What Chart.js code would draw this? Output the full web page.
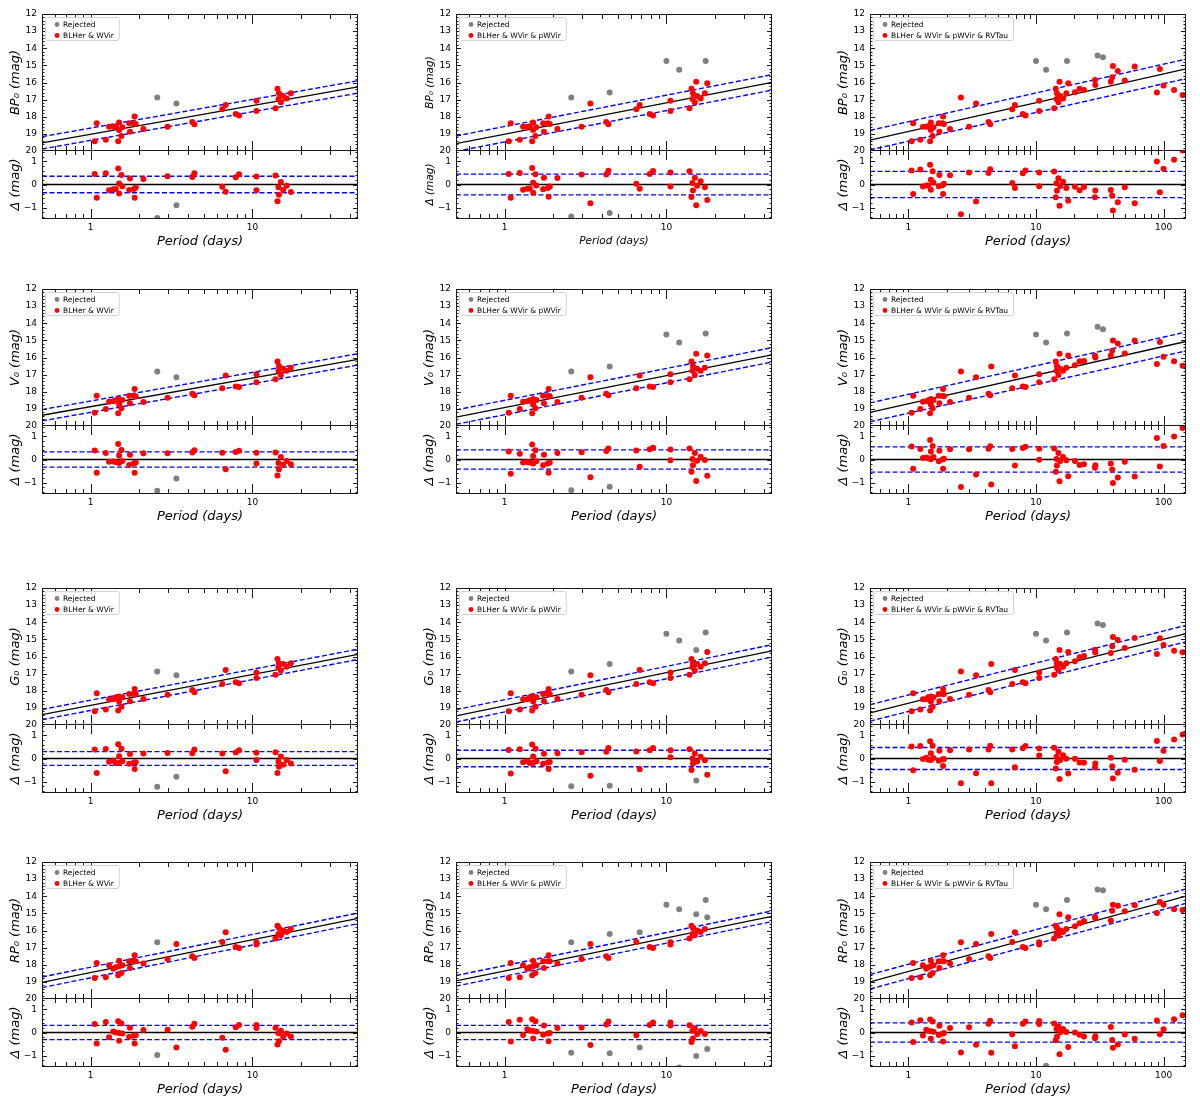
<!DOCTYPE html>
<html>
<head>
<meta charset="utf-8">
<title>PL relations</title>
<script src="https://cdn.jsdelivr.net/npm/chart.js@4.4.1/dist/chart.umd.min.js"></script>
<style>
  body { margin: 0; background: #fff; }
  #wrap { position: relative; width: 1200px; height: 1102px; overflow: hidden; background: #fff; }
  #wrap canvas { position: absolute; }
</style>
</head>
<body>
<div id="wrap"></div>
<script>
// periods (days), same stars in every panel
const period = [1.06, 1.09, 1.24, 1.30, 1.38, 1.43, 1.48, 1.50, 1.50, 1.55, 1.57, 1.73, 1.75, 1.85, 1.87, 1.90, 2.12, 2.58, 2.99, 3.39,
  4.25, 4.38, 4.46, 6.52, 6.84, 7.89, 8.27, 10.0, 10.6, 10.6, 12.0, 13.9, 14.3, 14.5, 14.6, 15.0, 15.3, 15.5, 16.3, 17.3,
  17.5, 17.9, 20.2, 22.0, 23.8, 29.0, 29.2, 30.4, 33.5, 38.6, 39.6, 40.1, 43.8, 49.7, 59.4, 88.7, 93.6, 100, 121, 141];
// 1 = BLHer / WVir, 2 = pWVir, 3 = RVTau
const kind = [1, 1, 1, 1, 1, 1, 1, 1, 1, 1, 1, 1, 1, 1, 1, 1, 1, 1, 1, 1,
  1, 1, 2, 1, 1, 1, 1, 2, 1, 1, 2, 1, 1, 1, 1, 1, 2, 1, 1, 1,
  2, 2, 3, 3, 3, 3, 3, 3, 3, 3, 3, 3, 3, 3, 3, 3, 3, 3, 3, 3];

const magBP = [19.43, 18.38, 19.35, 18.58, 18.58, 18.56, 19.43, 18.34, 18.77, 19.12, 18.62, 18.38, 18.87, 18.38, 17.99, 18.42, 18.71, 16.88, 18.58, 17.23,
  18.30, 18.44, 16.59, 17.56, 17.31, 17.84, 17.93, 14.74, 17.06, 17.66, 15.25, 17.50, 16.36, 16.96, 16.63, 17.16, 15.95, 16.79, 16.94, 16.63,
  14.74, 16.05, 16.57, 16.36, 16.44, 15.85, 16.14, 14.43, 14.53, 15.95, 15.70, 15.04, 15.33, 15.89, 15.07, 16.59, 15.21, 16.18, 16.44, 16.73];
const magV = [19.22, 18.23, 19.00, 18.58, 18.55, 18.50, 19.26, 18.42, 18.75, 18.97, 18.48, 18.23, 18.67, 18.25, 17.84, 18.27, 18.60, 16.82, 18.35, 17.16,
  18.12, 18.20, 16.53, 17.80, 17.05, 17.70, 17.72, 14.65, 16.98, 17.45, 15.12, 17.27, 16.24, 16.78, 16.50, 17.02, 15.78, 16.65, 16.78, 16.60,
  14.60, 15.88, 16.45, 16.22, 16.20, 15.90, 16.00, 14.20, 14.35, 15.88, 15.60, 15.00, 15.18, 15.77, 15.00, 16.38, 15.10, 15.95, 16.22, 16.48];
const magG = [19.20, 18.15, 19.10, 18.50, 18.50, 18.38, 19.16, 18.34, 18.63, 18.93, 18.38, 18.19, 18.61, 18.19, 17.90, 18.19, 18.48, 16.88, 18.23, 17.10,
  17.95, 18.09, 16.44, 17.60, 16.79, 17.50, 17.56, 14.67, 16.94, 17.25, 15.07, 17.06, 16.14, 16.63, 16.40, 16.82, 15.62, 16.44, 16.60, 16.40,
  14.60, 15.74, 16.28, 16.05, 15.97, 15.60, 15.77, 14.08, 14.16, 15.80, 15.40, 14.86, 15.04, 15.50, 14.92, 15.85, 14.94, 15.33, 15.66, 15.75];
const magRP = [18.77, 17.90, 18.73, 18.03, 18.23, 18.15, 18.61, 17.76, 18.09, 18.48, 18.03, 17.80, 18.19, 17.80, 17.45, 17.80, 17.93, 16.69, 17.66, 16.79,
  17.50, 17.60, 16.20, 16.67, 16.10, 16.96, 17.02, 14.49, 16.69, 16.82, 14.76, 16.47, 15.72, 16.20, 15.85, 16.28, 15.05, 16.00, 16.09, 15.91,
  14.22, 15.23, 15.75, 15.58, 15.44, 15.19, 15.27, 13.60, 13.65, 15.42, 14.84, 14.49, 14.55, 14.88, 14.53, 14.98, 14.33, 14.49, 14.76, 14.80];

const bandName = ['BP', 'V', 'G', 'RP'];
const sampleLabel = ['BLHer & WVir', 'BLHer & WVir & pWVir', 'BLHer & WVir & pWVir & RVTau'];
const periodMax = [45, 45, 150];

// fits per band (row) and sample (column): mag at P = 1 d, slope, scatter
const fitZp = [[19.02, 19.02, 18.86], [18.87, 18.92, 18.70], [18.85, 18.88, 18.73], [18.45, 18.36, 18.39]];
const fitSlope = [[-1.67, -1.83, -1.68], [-1.67, -1.86, -1.67], [-1.80, -1.94, -1.87], [-1.91, -1.93, -2.02]];
const fitSigma = [[0.36, 0.45, 0.57], [0.33, 0.42, 0.55], [0.30, 0.36, 0.48], [0.31, 0.31, 0.42]];

// rejected stars (indices) per column
const rejBP = [[17, 19], [17, 22, 27, 30, 40], [27, 30, 40, 47, 48]];
const rejV = [[17, 19], [17, 22, 27, 30, 40], [27, 30, 40, 47, 48]];
const rejG = [[17, 19], [17, 22, 27, 30, 36, 40], [27, 30, 40, 47, 48]];
const rejRP = [[17], [17, 22, 24, 27, 30, 36, 40, 41], [27, 30, 40, 47, 48]];
// stars not plotted in a panel
const skipBP = [[], [], [22]];
const skipNone = [[], [], []];

const bandMag = [magBP, magV, magG, magRP];
const bandRej = [rejBP, rejV, rejG, rejRP];
const bandSkip = [skipBP, skipNone, skipNone, skipNone];

// page layout
const colLeft = [42, 456, 870];
const rowTop = [14, 289, 588, 862];
const plotW = 316, mainH = 137, resH = 69;
const padL = 40, padTop = 10, padR = 10;
const FONT = 'DejaVu Sans';

// frame + inward ticks on every side (matplotlib style)
const axisDeco = {
  id: 'axisDeco',
  afterDatasetsDraw(chart) {
    const { ctx, chartArea: a } = chart;
    const xs = chart.scales.x, ys = chart.scales.y;
    ctx.save();
    ctx.strokeStyle = '#1a1a1a';
    ctx.lineWidth = 1;
    ctx.strokeRect(a.left + 0.5, a.top + 0.5, a.width - 1, a.height - 1);
    ctx.beginPath();
    const xt = (v, len) => {
      const p = Math.round(xs.getPixelForValue(v)) + 0.5;
      ctx.moveTo(p, a.top); ctx.lineTo(p, a.top + len);
      ctx.moveTo(p, a.bottom); ctx.lineTo(p, a.bottom - len);
    };
    const yt = (v, len) => {
      const p = Math.round(ys.getPixelForValue(v)) + 0.5;
      ctx.moveTo(a.left, p); ctx.lineTo(a.left + len, p);
      ctx.moveTo(a.right, p); ctx.lineTo(a.right - len, p);
    };
    for (const d of [0.1, 1, 10, 100]) {
      for (let k = 2; k <= 9; k++) {
        const v = k * d;
        if (v > xs.min && v < xs.max) xt(v, 5);
      }
      if (d >= 1 && d > xs.min && d < xs.max) xt(d, 10);
    }
    const lo = Math.min(ys.min, ys.max), hi = Math.max(ys.min, ys.max);
    for (let i = Math.ceil(lo * 5); i <= Math.floor(hi * 5); i++) {
      const v = i / 5;
      if (v <= lo || v >= hi) continue;
      yt(v, i % 5 === 0 ? 5 : 2.5);
    }
    ctx.stroke();
    ctx.restore();
  }
};

// boxed legend in the upper-left corner
const sampleLegend = {
  id: 'sampleLegend',
  afterDraw(chart, args, o) {
    if (!o.show) return;
    const { ctx, chartArea: a } = chart;
    const sets = chart.data.datasets.slice(0, 2);
    ctx.save();
    ctx.font = '7.5px "' + FONT + '"';
    const tw = Math.max(...sets.map(d => ctx.measureText(d.label).width));
    const x0 = a.left + 3, y0 = a.top + 3;
    ctx.beginPath();
    ctx.roundRect(x0 + 0.5, y0 + 0.5, tw + 23, 23, 2);
    ctx.fillStyle = 'rgba(255,255,255,0.85)';
    ctx.fill();
    ctx.strokeStyle = '#d2d2d2';
    ctx.stroke();
    sets.forEach((d, i) => {
      const cy = y0 + 7.5 + i * 11;
      ctx.beginPath();
      ctx.arc(x0 + 12, cy, 2.4, 0, 2 * Math.PI);
      ctx.fillStyle = d.backgroundColor;
      ctx.fill();
      ctx.fillStyle = '#000';
      ctx.textBaseline = 'middle';
      ctx.fillText(d.label, x0 + 18, cy + 0.5);
    });
    ctx.restore();
  }
};

function addCanvas(left, top, w, h) {
  const c = document.createElement('canvas');
  c.width = w; c.height = h;
  c.style.left = left + 'px'; c.style.top = top + 'px';
  c.style.width = w + 'px'; c.style.height = h + 'px';
  document.getElementById('wrap').appendChild(c);
  return c;
}

function lineSet(data, color, dash) {
  return { data, showLine: true, borderColor: color, borderWidth: dash ? 1.4 : 1.3,
    borderDash: dash ? [5, 2.5] : [], pointRadius: 0, fill: false, clip: 0 };
}

function pointSet(label, data, color) {
  return { label, data, backgroundColor: color, borderColor: color, borderWidth: 0,
    pointRadius: 3, pointHoverRadius: 3, clip: 0 };
}

function fmt(v) { return v < 0 ? '\u2212' + Math.abs(v) : String(v); }

function makePanel(row, col) {
  const L = colLeft[col], T = rowTop[row];
  const xMax = periodMax[col];
  const zp = fitZp[row][col], sl = fitSlope[row][col], sig = fitSigma[row][col];
  const mags = bandMag[row], rej = bandRej[row][col], skip = bandSkip[row][col];
  const small = row === 0 && col === 1;
  const titleSize = small ? 10.5 : 13;

  const ok = [], bad = [], okR = [], badR = [];
  period.forEach((p, i) => {
    if (kind[i] > col + 1 || skip.includes(i)) return;
    const m = mags[i];
    const d = m - (zp + sl * Math.log10(p));
    if (rej.includes(i)) { bad.push({ x: p, y: m }); badR.push({ x: p, y: d }); }
    else { ok.push({ x: p, y: m }); okR.push({ x: p, y: d }); }
  });
  const fitAt = (p, off) => ({ x: p, y: zp + sl * Math.log10(p) + off });
  const ends = [0.5, xMax];

  const xScale = (show) => ({
    type: 'logarithmic', min: 0.5, max: xMax, display: show,
    grid: { display: false, drawTicks: false }, border: { display: false },
    afterBuildTicks: s => { s.ticks = [1, 10, 100].filter(v => v <= xMax).map(v => ({ value: v })); },
    afterFit: s => {
      if (show) s.height = 34;
      s.paddingLeft = 0; s.paddingRight = 0;
    },
    ticks: { padding: 3, color: '#000', font: { family: FONT, size: 9 }, maxRotation: 0, autoSkip: false,
      callback: v => String(v) },
    title: { display: show, text: 'Period (days)', color: '#000',
      font: { family: FONT, size: titleSize, style: 'italic' },
      padding: { top: 0, bottom: small ? 5.7 : 3.2 } }
  });
  const yScale = (min, max, rev, ticks, title) => ({
    type: 'linear', min, max, reverse: rev,
    grid: { display: false, drawTicks: false }, border: { display: false },
    afterBuildTicks: s => { s.ticks = ticks.map(v => ({ value: v })); },
    afterFit: s => { s.width = padL; s.paddingTop = 0; s.paddingBottom = 0; },
    ticks: { padding: 5, color: '#000', font: { family: FONT, size: 9 }, autoSkip: false, callback: v => fmt(v) },
    title: { display: true, text: title, color: '#000',
      font: { family: FONT, size: titleSize, style: 'italic' },
      padding: { top: 14 - titleSize * 0.6, bottom: 0 } }
  });
  const common = {
    responsive: false, maintainAspectRatio: false, animation: false, devicePixelRatio: 1,
    events: []
  };

  const mainCanvas = addCanvas(L - padL, T - padTop, padL + plotW + padR, padTop + mainH + 2);
  new Chart(mainCanvas, {
    type: 'scatter',
    data: {
      datasets: [
        pointSet('Rejected', bad, '#808080'),
        pointSet(sampleLabel[col], ok, '#ff0000'),
        lineSet(ends.map(p => fitAt(p, sig)), '#0000ff', true),
        lineSet(ends.map(p => fitAt(p, -sig)), '#0000ff', true),
        lineSet(ends.map(p => fitAt(p, 0)), '#000000', false)
      ]
    },
    options: Object.assign({}, common, {
      layout: { autoPadding: false, padding: { left: 0, top: padTop, right: padR, bottom: 2 } },
      scales: {
        x: xScale(false),
        y: yScale(12, 20, true, [12, 13, 14, 15, 16, 17, 18, 19, 20], bandName[row] + '\u2080 (mag)')
      },
      plugins: { legend: { display: false }, tooltip: { enabled: false }, sampleLegend: { show: true } }
    }),
    plugins: [axisDeco, sampleLegend]
  });

  // residual panel shares the bottom edge of the main panel
  const resCanvas = addCanvas(L - padL, T + mainH - 3, padL + plotW + padR, 2 + resH + 34);
  new Chart(resCanvas, {
    type: 'scatter',
    data: {
      datasets: [
        pointSet('Rejected', badR, '#808080'),
        pointSet(sampleLabel[col], okR, '#ff0000'),
        lineSet(ends.map(p => ({ x: p, y: sig })), '#0000ff', true),
        lineSet(ends.map(p => ({ x: p, y: -sig })), '#0000ff', true),
        lineSet(ends.map(p => ({ x: p, y: 0 })), '#000000', false)
      ]
    },
    options: Object.assign({}, common, {
      layout: { autoPadding: false, padding: { left: 0, top: 2, right: padR, bottom: 0 } },
      scales: {
        x: xScale(true),
        y: yScale(-1.5, 1.5, false, [-1, 0, 1], '\u0394 (mag)')
      },
      plugins: { legend: { display: false }, tooltip: { enabled: false }, sampleLegend: { show: false } }
    }),
    plugins: [axisDeco, sampleLegend]
  });
}

for (let r = 0; r < 4; r++) {
  for (let c = 0; c < 3; c++) makePanel(r, c);
}
</script>
</body>
</html>
